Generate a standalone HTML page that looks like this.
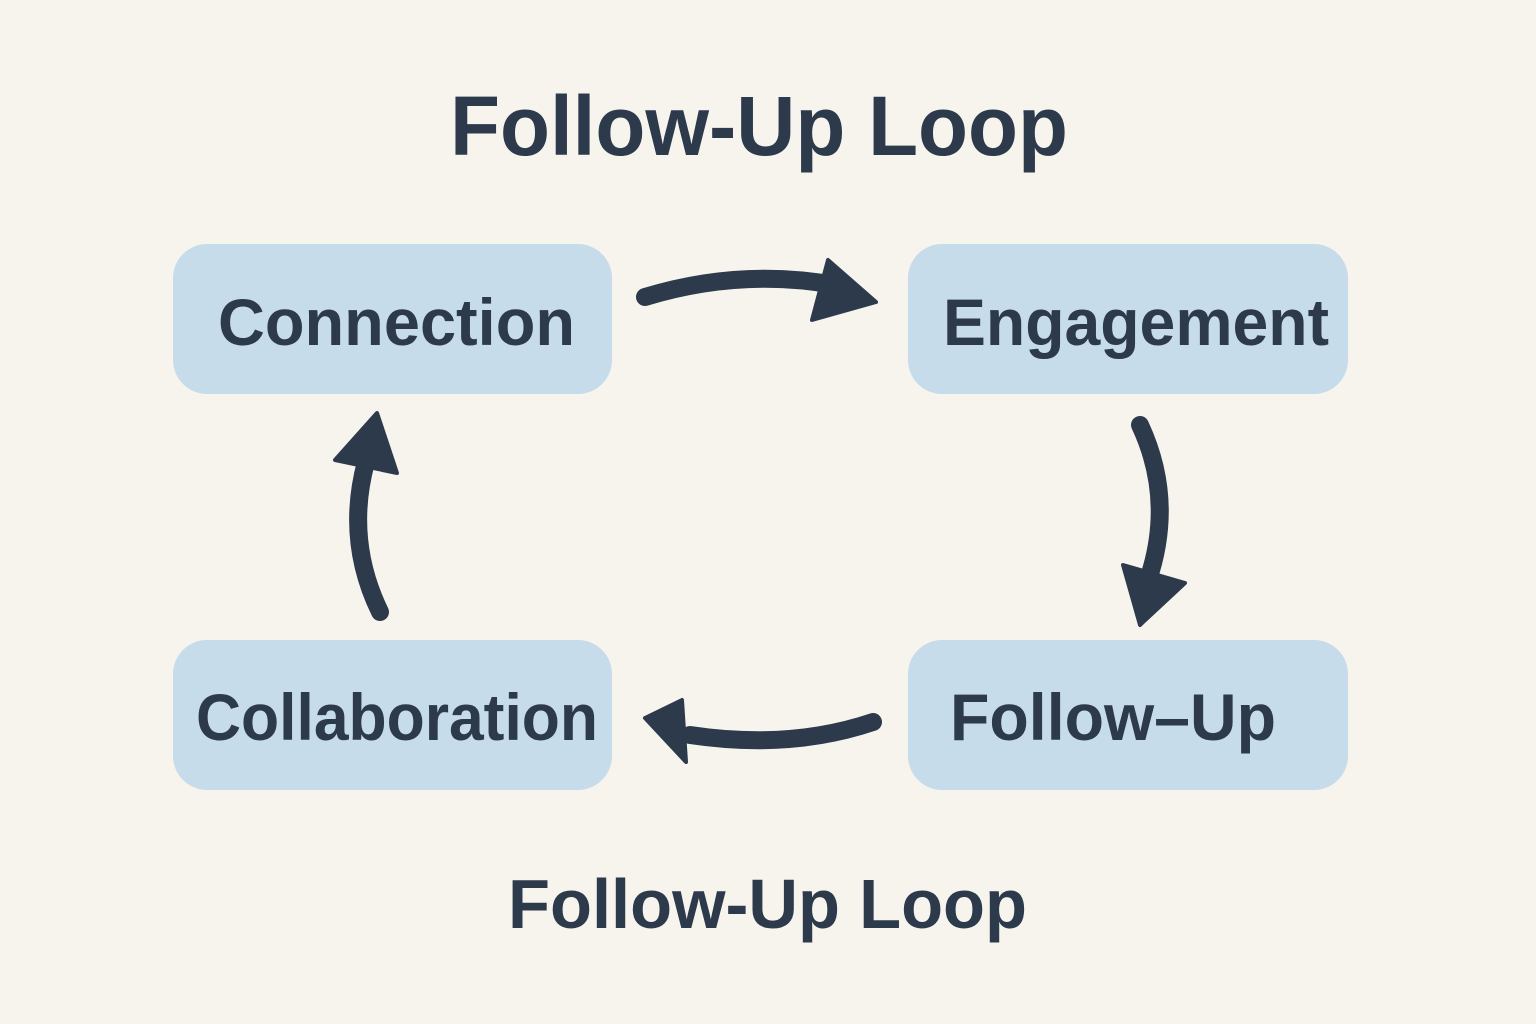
<!DOCTYPE html>
<html><head><meta charset="utf-8"><style>
html,body{margin:0;padding:0;background:#f7f4ee;}
svg{display:block;}
text{font-family:"Liberation Sans",sans-serif;font-weight:bold;fill:#2c3a4b;}
</style></head><body>
<svg width="1536" height="1024" viewBox="0 0 1536 1024">
<rect width="1536" height="1024" fill="#f7f4ee"/>
<text x="450" y="155" font-size="84" textLength="618" lengthAdjust="spacingAndGlyphs">Follow-Up Loop</text>
<text x="508" y="928" font-size="70" textLength="519" lengthAdjust="spacingAndGlyphs">Follow-Up Loop</text>
<g fill="#c6dcea">
<rect x="173" y="244" width="439" height="150" rx="34"/>
<rect x="908" y="244" width="440" height="150" rx="34"/>
<rect x="173" y="640" width="439" height="150" rx="34"/>
<rect x="908" y="640" width="440" height="150" rx="34"/>
</g>
<text x="218" y="345" font-size="66" textLength="357" lengthAdjust="spacingAndGlyphs">Connection</text>
<text x="943" y="345" font-size="66" textLength="386" lengthAdjust="spacingAndGlyphs">Engagement</text>
<text x="196" y="740" font-size="66" textLength="402" lengthAdjust="spacingAndGlyphs">Collaboration</text>
<text x="950" y="740" font-size="66" textLength="326" lengthAdjust="spacingAndGlyphs">Follow–Up</text>
<g stroke="#2c3a4b" stroke-width="18" fill="none" stroke-linecap="round">
<path d="M645 297 Q740 268 835 285"/>
<path d="M1140 425 Q1175 500 1148 580"/>
<path d="M873 722 Q790 750 690 735"/>
<path d="M380 612 Q345 540 366 462"/>
</g>
<g fill="#2c3a4b" stroke="#2c3a4b" stroke-width="4" stroke-linejoin="round">
<polygon points="876,302 828,260 812,320"/>
<polygon points="1140,625 1123,565 1185,583"/>
<polygon points="645,718 682,700 686,762"/>
<polygon points="377,413 335,460 397,473"/>
</g>
</svg>
</body></html>
